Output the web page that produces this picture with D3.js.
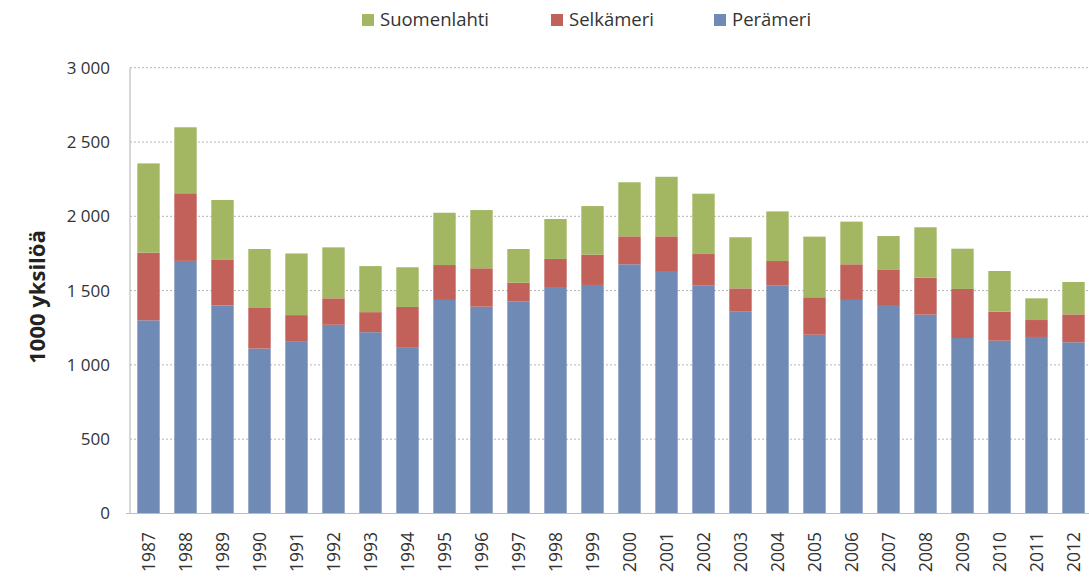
<!DOCTYPE html>
<html>
<head>
<meta charset="utf-8">
<script src="https://cdn.jsdelivr.net/npm/d3@7"></script>
<style>
  body { margin: 0; background: #fff; }
  svg text { font-family: "Open Sans", sans-serif; fill: #333; }
</style>
</head>
<body>
<svg id="chart" width="1089" height="577"></svg>
<script>
//Years on the x axis
var years = ["1987","1988","1989","1990","1991","1992","1993","1994","1995","1996","1997","1998","1999",
             "2000","2001","2002","2003","2004","2005","2006","2007","2008","2009","2010","2011","2012"];

//Series values, 1000 individuals
var perameri    = [1300,1700,1400,1110,1160,1270,1220,1115,1437,1392,1428,1524,1538,1677,1632,1536,1358,1536,1203,1437,1403,1338,1181,1163,1188,1152];
var selkameri   = [ 455, 455, 310, 273, 175, 178, 135, 275, 235, 258, 125, 189, 204, 188, 233, 210, 157, 163, 252, 240, 236, 249, 330, 195, 114, 188];
var suomenlahti = [ 601, 444, 400, 397, 415, 343, 310, 267, 352, 392, 227, 269, 327, 364, 401, 406, 344, 334, 408, 287, 228, 339, 271, 274, 146, 218];

var seriesNames = ["Perämeri", "Selkämeri", "Suomenlahti"];
var yTicks = [0, 500, 1000, 1500, 2000, 2500, 3000];

//Colors for each series
var colors = {"Perämeri": "#6f8ab4", "Selkämeri": "#c2605a", "Suomenlahti": "#a3b763"};

//Plot area (window.top is reserved, so use own names)
var plotLeft = 130, plotRight = 1092, plotTop = 67.7, plotBottom = 513.5;

var svg = d3.select("#chart");

var x = d3.scaleBand()
    .domain(years)
    .range([plotLeft, plotRight])
    .paddingInner(0.395)
    .paddingOuter(0.1975);

var y = d3.scaleLinear()
    .domain([0, 3000])
    .range([plotBottom, plotTop]);

//Build rows for the stack
var rows = years.map(function(yr, i){
    return {year: yr, "Perämeri": perameri[i], "Selkämeri": selkameri[i], "Suomenlahti": suomenlahti[i]};
});
var stacked = d3.stack().keys(seriesNames)(rows);

//Gridlines
svg.append("g").selectAll("line")
    .data(yTicks.filter(function(d){ return d > 0; }))
    .enter().append("line")
    .attr("x1", plotLeft).attr("x2", 1089)
    .attr("y1", function(d){ return y(d); })
    .attr("y2", function(d){ return y(d); })
    .style("stroke", "#b5b5b5")
    .style("stroke-width", 1)
    .style("stroke-dasharray", "2,2");

//Bars
svg.append("g").selectAll("g")
    .data(stacked)
    .enter().append("g")
    .style("fill", function(d){ return colors[d.key]; })
    .selectAll("rect")
    .data(function(d){ return d; })
    .enter().append("rect")
    .attr("x", function(d){ return x(d.data.year); })
    .attr("width", x.bandwidth())
    .attr("y", function(d){ return y(d[1]); })
    .attr("height", function(d){ return y(d[0]) - y(d[1]); });

//Axis lines
svg.append("line")
    .attr("x1", plotLeft).attr("x2", plotLeft)
    .attr("y1", plotTop).attr("y2", plotBottom)
    .style("stroke", "#bdbdbd").style("stroke-width", 1.2);
svg.append("line")
    .attr("x1", plotLeft - 4).attr("x2", 1089)
    .attr("y1", plotBottom).attr("y2", plotBottom)
    .style("stroke", "#bdbdbd").style("stroke-width", 1.2);

//Y tick labels
var fmt = function(d){ return d3.format(",")(d).replace(/,/g, " "); };
svg.append("g").selectAll("text")
    .data(yTicks)
    .enter().append("text")
    .attr("x", 110)
    .attr("y", function(d){ return y(d); })
    .attr("dy", "0.35em")
    .attr("text-anchor", "end")
    .style("font-size", "17px")
    .text(fmt);

//X tick labels, rotated
svg.append("g").selectAll("text")
    .data(years)
    .enter().append("text")
    .attr("transform", function(d){
        return "translate(" + (x(d) + x.bandwidth() / 2) + "," + 532 + ") rotate(-90)";
    })
    .attr("dy", "0.35em")
    .attr("text-anchor", "end")
    .style("font-size", "17.5px")
    .text(function(d){ return d; });

//Y axis title
svg.append("text")
    .attr("transform", "translate(37,297) rotate(-90)")
    .attr("dy", "0.35em")
    .attr("text-anchor", "middle")
    .style("font-size", "22px")
    .style("font-weight", "bold")
    .style("fill", "#222")
    .text("1000 yksilöä");

//Legend
var legend = [
    {name: "Suomenlahti", x: 362},
    {name: "Selkämeri", x: 551},
    {name: "Perämeri", x: 714}
];
var lg = svg.append("g").selectAll("g")
    .data(legend)
    .enter().append("g")
    .attr("transform", function(d){ return "translate(" + d.x + ",14)"; });
lg.append("rect")
    .attr("width", 12).attr("height", 12)
    .style("fill", function(d){ return colors[d.name]; });
lg.append("text")
    .attr("x", 18).attr("y", 6)
    .attr("dy", "0.35em")
    .style("font-size", "18.5px")
    .text(function(d){ return d.name; });
</script>
</body>
</html>
